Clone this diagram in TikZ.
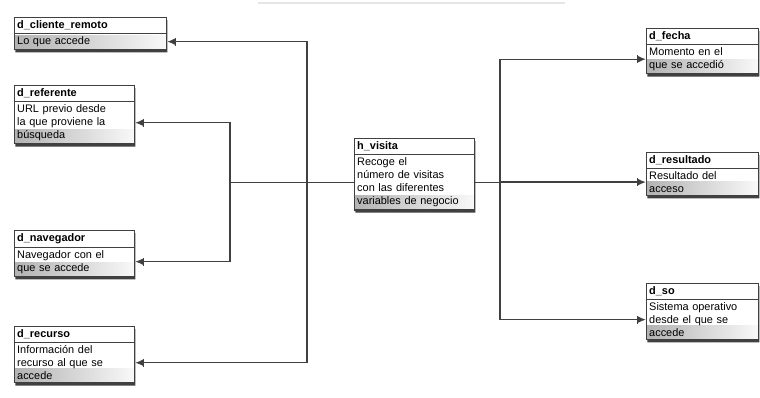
\documentclass[tikz,border=0pt]{standalone}
\usepackage{fontspec}
\setsansfont{Liberation Sans}
\usetikzlibrary{positioning, shapes.multipart, shadows, arrows.meta}

\begin{document}
\begin{tikzpicture}[
    x=0.75pt, y=-0.75pt,
    tabla/.style={rectangle split, rectangle split parts=2, draw=black!75,
                  line width=0.8pt, fill=white, inner sep=2pt,
                  font=\fontsize{8.2}{9.8}\selectfont\sffamily, align=left,
                  anchor=north west,
                  drop shadow={shadow xshift=0.6pt, shadow yshift=-2pt,
                               fill=black, opacity=0.75},
                  path picture={\shade[left color=gray!60, right color=gray!5]
                      (path picture bounding box.south west) rectangle
                      ([yshift=10.5pt]path picture bounding box.south east);}},
    link/.style={line width=1pt, draw=black!75,
                 -{Bar[width=6pt]Latex[length=6pt, width=5pt]}},
    bus/.style={line width=1pt, draw=black!75},
]
\useasboundingbox (0,0) rectangle (760,398);
\draw[gray!20, line width=1.5pt] (258,3) -- (565,3);

% Dimensiones
\node[tabla, text width=110pt] (cli) at (14,17)
    {\textbf{d\_cliente\_remoto}\nodepart{two}Lo que accede};
\node[tabla, text width=86pt] (ref) at (14,85)
    {\textbf{d\_referente}\nodepart{two}URL previo desde\\la que proviene la\\búsqueda};
\node[tabla, text width=86pt] (nav) at (14,230)
    {\textbf{d\_navegador}\nodepart{two}Navegador con el\\que se accede};
\node[tabla, text width=86pt] (rec) at (14,326)
    {\textbf{d\_recurso}\nodepart{two}Información del\\recurso al que se\\accede};

% Hecho
\node[tabla, text width=86pt] (hv) at (354,138)
    {\textbf{h\_visita}\nodepart{two}Recoge el\\número de visitas\\con las diferentes\\variables de negocio};

\node[tabla, text width=80pt] (fec) at (646,28)
    {\textbf{d\_fecha}\nodepart{two}Momento en el\\que se accedió};
\node[tabla, text width=80pt] (res) at (646,152)
    {\textbf{d\_resultado}\nodepart{two}Resultado del\\acceso};
\node[tabla, text width=80pt] (so) at (646,283)
    {\textbf{d\_so}\nodepart{two}Sistema operativo\\desde el que se\\accede};

% Conexiones
\coordinate (hvw) at ([yshift=-6pt]hv.west);
\coordinate (hve) at ([yshift=-6pt]hv.east);
\coordinate (busA) at (hvw -| 307,0);
\coordinate (busB) at (hvw -| 230,0);
\coordinate (busC) at (hve -| 500,0);

\draw[bus] (hvw) -- (busB);
\draw[link] (busA) |- ([yshift=-6pt]cli.east);
\draw[link] (busA) |- ([yshift=-6pt]rec.east);
\draw[link] (busB) |- ([yshift=-6pt]ref.east);
\draw[link] (busB) |- ([yshift=-6pt]nav.east);

\draw[bus] (hve) -- (busC);
\draw[link] (busC) |- ([yshift=-6pt]fec.west);
\draw[link] (busC) |- ([yshift=-6pt]res.west);
\draw[link] (busC) |- ([yshift=-6pt]so.west);
\end{tikzpicture}
\end{document}
